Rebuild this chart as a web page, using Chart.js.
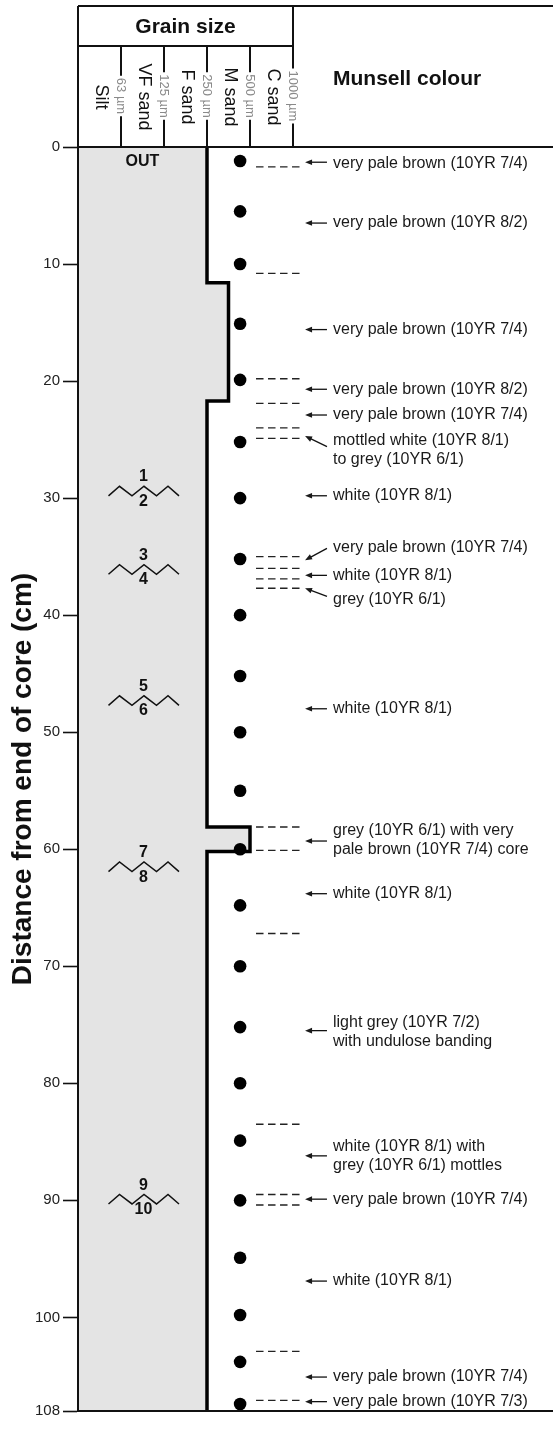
<!DOCTYPE html>
<html>
<head>
<meta charset="utf-8">
<script src="https://cdn.jsdelivr.net/npm/chart.js@4/dist/chart.umd.min.js"></script>
<style>
  html, body { margin: 0; padding: 0; background: #fff; }
  #wrap { width: 553px; height: 1433px; }
</style>
</head>
<body>
<div id="wrap"><canvas id="coreChart" width="553" height="1433"></canvas></div>
<script>
// depths are cm from the end of the core
const sampleDepths = [1.2, 5.5, 10, 15.1, 19.9, 25.2, 30, 35.2, 40, 45.2, 50, 55, 60, 64.8, 70, 75.2, 80, 84.9, 90, 94.9, 99.8, 103.8, 107.4];
const colourBoundaries = [1.7, 10.8, 19.8, 21.9, 24.0, 24.9, 35.0, 36.0, 36.9, 37.7, 58.1, 60.1, 67.2, 83.5, 89.5, 90.4, 102.9, 107.1];

// grain size scale: 0 = left edge of silt, 1 = 63 µm, 2 = 125, 3 = 250, 4 = 500, 5 = 1000 µm
const grainTop = [0, 11.6, 21.7, 58.1, 60.2];
const grainBase = [11.6, 21.7, 58.1, 60.2, 108];
const grainSize = [3, 3.5, 3, 4, 3];

const sizeClasses = ['Silt', 'VF sand', 'F sand', 'M sand', 'C sand'];
const sizeLimits = ['63 µm', '125 µm', '250 µm', '500 µm', '1000 µm'];
const depthTicks = [0, 10, 20, 30, 40, 50, 60, 70, 80, 90, 100, 108];

const colourLabels = [
  'very pale brown (10YR 7/4)',
  'very pale brown (10YR 8/2)',
  'very pale brown (10YR 7/4)',
  'very pale brown (10YR 8/2)',
  'very pale brown (10YR 7/4)',
  'mottled white (10YR 8/1)\nto grey (10YR 6/1)',
  'white (10YR 8/1)',
  'very pale brown (10YR 7/4)',
  'white (10YR 8/1)',
  'grey (10YR 6/1)',
  'white (10YR 8/1)',
  'grey (10YR 6/1) with very\npale brown (10YR 7/4) core',
  'white (10YR 8/1)',
  'light grey (10YR 7/2)\nwith undulose banding',
  'white (10YR 8/1) with\ngrey (10YR 6/1) mottles',
  'very pale brown (10YR 7/4)',
  'white (10YR 8/1)',
  'very pale brown (10YR 7/4)',
  'very pale brown (10YR 7/3)'
];
const labelDepth = [1.4, 6.5, 15.6, 20.7, 22.9, 25.1, 29.8, 34.2, 36.6, 38.7, 48.0, 58.4, 63.8, 74.8, 85.4, 89.9, 96.9, 105.1, 107.2];
const arrowTail  = [1.3, 6.5, 15.6, 20.7, 22.9, 25.6, 29.8, 34.3, 36.6, 38.4, 48.0, 59.3, 63.8, 75.5, 86.2, 89.9, 96.9, 105.1, 107.2];
const arrowHead  = [1.3, 6.5, 15.6, 20.7, 22.9, 24.7, 29.8, 35.3, 36.6, 37.7, 48.0, 59.3, 63.8, 75.5, 86.2, 89.9, 96.9, 105.1, 107.2];

// section breaks (zigzags) between core sections
const breakDepths = [29.4, 36.1, 47.3, 61.5, 89.9];
const breakAbove = ['1', '3', '5', '7', '9'];
const breakBelow = ['2', '4', '6', '8', '10'];

const FONT = "'Liberation Sans', Arial, Helvetica, sans-serif";
const COL_W = 43;            // px per grain size class
const SAMPLE_X = 3.77;       // column of the sample dots
const DASH_FROM = 4.14, DASH_TO = 5.16;
const ARROW_HEAD_X = 5.28, ARROW_TAIL_X = 5.79, TEXT_X = 5.93;

Chart.defaults.font.family = FONT;

function line(ctx, x1, y1, x2, y2) {
  ctx.beginPath();
  ctx.moveTo(x1, y1);
  ctx.lineTo(x2, y2);
  ctx.stroke();
}

function vText(ctx, txt, cx, cy) {
  ctx.save();
  ctx.translate(cx, cy);
  ctx.rotate(Math.PI / 2);
  ctx.textAlign = 'center';
  ctx.textBaseline = 'middle';
  ctx.fillText(txt, 0, 0);
  ctx.restore();
}

function arrow(ctx, x1, y1, x2, y2) {
  const a = Math.atan2(y2 - y1, x2 - x1);
  const len = 7, hw = 2.8;
  line(ctx, x1, y1, x2 - Math.cos(a) * len * 0.7, y2 - Math.sin(a) * len * 0.7);
  ctx.beginPath();
  ctx.moveTo(x2, y2);
  ctx.lineTo(x2 - len * Math.cos(a) + hw * Math.sin(a), y2 - len * Math.sin(a) - hw * Math.cos(a));
  ctx.lineTo(x2 - len * Math.cos(a) - hw * Math.sin(a), y2 - len * Math.sin(a) + hw * Math.cos(a));
  ctx.closePath();
  ctx.fill();
}

const coreDrawing = {
  id: 'coreDrawing',
  afterDatasetsDraw(chart) {
    const {ctx, chartArea: area, scales: {x, y}} = chart;
    const x0 = x.getPixelForValue(0);
    const x5 = x.getPixelForValue(5);
    const headTop = 6, headMid = 46, labelMid = 96;

    ctx.save();
    ctx.strokeStyle = '#111';
    ctx.fillStyle = '#111';
    ctx.lineWidth = 2;

    // header frame
    line(ctx, x0, headTop, area.right, headTop);
    line(ctx, x0, headMid, x5, headMid);
    line(ctx, x0, area.top, area.right, area.top);
    line(ctx, x0, area.bottom, area.right, area.bottom);
    line(ctx, x0, headTop, x0, area.bottom);
    line(ctx, x5, headTop, x5, headMid);

    ctx.textAlign = 'center';
    ctx.textBaseline = 'middle';
    ctx.font = 'bold 21px ' + FONT;
    ctx.fillText('Grain size', (x0 + x5) / 2, 27);
    ctx.textAlign = 'left';
    ctx.fillText('Munsell colour', x.getPixelForValue(TEXT_X), 79);

    // class limits with their sizes
    ctx.font = '13px ' + FONT;
    sizeLimits.forEach((lab, i) => {
      const bx = x.getPixelForValue(i + 1);
      const w = ctx.measureText(lab).width;
      ctx.strokeStyle = '#111';
      line(ctx, bx, headMid, bx, labelMid - w / 2 - 2);
      line(ctx, bx, labelMid + w / 2 + 2, bx, area.top);
      ctx.fillStyle = '#8a8a8a';
      vText(ctx, lab, bx, labelMid);
    });
    ctx.fillStyle = '#111';
    ctx.font = '18px ' + FONT;
    sizeClasses.forEach((lab, i) => {
      vText(ctx, lab, x.getPixelForValue(i + 0.5) + 1, 97);
    });

    // OUT
    ctx.font = 'bold 16px ' + FONT;
    ctx.textAlign = 'center';
    ctx.fillText('OUT', x.getPixelForValue(1.5), area.top + 15);

    // zigzag section breaks
    const zx = [-35, -24, -11.5, 0.5, 13, 24.5, 35.5];
    breakDepths.forEach((d, i) => {
      const cx = x.getPixelForValue(1.5) + 1;
      const cy = y.getPixelForValue(d);
      ctx.lineWidth = 1.5;
      ctx.beginPath();
      zx.forEach((dx, k) => {
        const py = cy + (k % 2 === 0 ? 4.8 : -4.8);
        if (k === 0) ctx.moveTo(cx + dx, py); else ctx.lineTo(cx + dx, py);
      });
      ctx.stroke();
      ctx.font = 'bold 16px ' + FONT;
      ctx.fillText(breakAbove[i], cx, cy - 14);
      ctx.fillText(breakBelow[i], cx, cy + 10.5);
    });

    // colour descriptions
    ctx.lineWidth = 1.3;
    ctx.font = '16px ' + FONT;
    ctx.textAlign = 'left';
    ctx.fillStyle = '#1a1a1a';
    colourLabels.forEach((txt, i) => {
      const ty = y.getPixelForValue(labelDepth[i]);
      txt.split('\n').forEach((ln, k) => {
        ctx.fillText(ln, x.getPixelForValue(TEXT_X), ty + k * 19);
      });
      arrow(ctx, x.getPixelForValue(ARROW_TAIL_X), y.getPixelForValue(arrowTail[i]),
        x.getPixelForValue(ARROW_HEAD_X), y.getPixelForValue(arrowHead[i]));
    });
    ctx.restore();
  }
};

const grainPoints = [];
grainSize.forEach((g, i) => {
  grainPoints.push({x: g, y: grainTop[i]});
  grainPoints.push({x: g, y: grainBase[i]});
});

const dashPoints = [];
colourBoundaries.forEach(d => {
  dashPoints.push({x: DASH_FROM, y: d}, {x: DASH_TO, y: d}, {x: null, y: null});
});

new Chart(document.getElementById('coreChart'), {
  type: 'scatter',
  data: {
    datasets: [
      {
        label: 'samples',
        data: sampleDepths.map(d => ({x: SAMPLE_X, y: d})),
        pointRadius: 6.3,
        pointBackgroundColor: '#000',
        pointBorderWidth: 0,
        clip: false
      },
      {
        type: 'line',
        label: 'colour boundaries',
        data: dashPoints,
        showLine: true,
        spanGaps: false,
        borderColor: '#222',
        borderWidth: 1.3,
        borderDash: [7.5, 4.5],
        pointRadius: 0,
        fill: false
      },
      {
        type: 'line',
        label: 'grain size',
        indexAxis: 'y',
        data: grainPoints,
        showLine: true,
        borderColor: '#000',
        borderWidth: 3.5,
        borderJoinStyle: 'miter',
        tension: 0,
        pointRadius: 0,
        backgroundColor: '#e4e4e4',
        fill: {value: 0}
      }
    ]
  },
  options: {
    responsive: false,
    animation: false,
    devicePixelRatio: 1,
    layout: {autoPadding: false, padding: {top: 147, bottom: 22, left: 0, right: 0}},
    plugins: {legend: {display: false}, tooltip: {enabled: false}},
    scales: {
      x: {type: 'linear', display: false, min: 0, max: (553 - 78) / COL_W},
      y: {
        type: 'linear',
        reverse: true,
        min: 0,
        max: 108,
        afterFit(scale) { scale.width = 78; },
        afterBuildTicks(scale) { scale.ticks = depthTicks.map(v => ({value: v})); },
        ticks: {padding: 3, color: '#222', font: {size: 15}, autoSkip: false},
        grid: {drawOnChartArea: false, drawTicks: true, tickLength: 15, tickColor: '#111', tickWidth: 1.6},
        border: {display: true, color: '#111', width: 2},
        title: {
          display: true,
          text: 'Distance from end of core (cm)',
          color: '#111',
          font: {size: 28, weight: 'bold'},
          padding: {top: 6, bottom: 0}
        }
      }
    }
  },
  plugins: [coreDrawing]
});
</script>
</body>
</html>
